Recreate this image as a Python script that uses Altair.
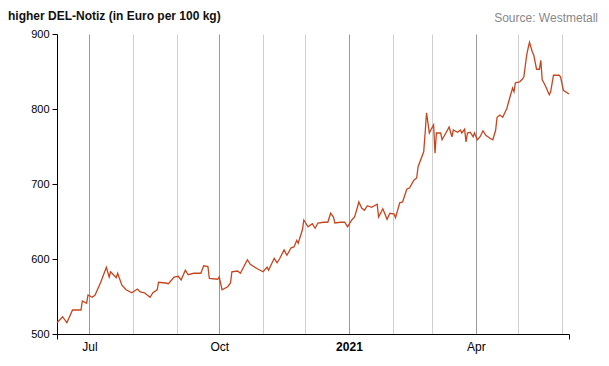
import altair as alt
import pandas as pd

TITLE = "higher DEL-Notiz (in Euro per 100 kg)"
SOURCE = "Source: Westmetall"

dates = [
    "2020-06-08", "2020-06-12", "2020-06-15", "2020-06-19", "2020-06-25", "2020-06-26",
    "2020-06-29", "2020-06-30", "2020-07-03", "2020-07-05", "2020-07-09", "2020-07-13",
    "2020-07-15", "2020-07-16", "2020-07-20", "2020-07-21", "2020-07-24", "2020-07-27",
    "2020-07-31", "2020-08-04", "2020-08-06", "2020-08-09", "2020-08-13", "2020-08-15",
    "2020-08-18", "2020-08-19", "2020-08-24", "2020-08-26", "2020-08-30", "2020-09-02",
    "2020-09-04", "2020-09-07", "2020-09-09", "2020-09-13", "2020-09-18", "2020-09-20",
    "2020-09-23", "2020-09-24", "2020-09-30", "2020-10-01", "2020-10-03", "2020-10-07",
    "2020-10-09", "2020-10-10", "2020-10-14", "2020-10-16", "2020-10-21", "2020-10-23",
    "2020-10-28", "2020-11-01", "2020-11-04", "2020-11-05", "2020-11-09", "2020-11-11",
    "2020-11-13", "2020-11-16", "2020-11-18", "2020-11-21", "2020-11-23", "2020-11-25",
    "2020-11-26", "2020-11-29", "2020-11-30", "2020-12-03", "2020-12-06", "2020-12-08",
    "2020-12-10", "2020-12-14", "2020-12-17", "2020-12-19", "2020-12-21", "2020-12-22",
    "2020-12-26", "2020-12-29", "2020-12-31", "2021-01-03", "2021-01-05", "2021-01-07",
    "2021-01-08", "2021-01-10", "2021-01-12", "2021-01-14", "2021-01-17", "2021-01-21",
    "2021-01-22", "2021-01-25", "2021-01-28", "2021-01-30", "2021-02-02", "2021-02-03",
    "2021-02-06", "2021-02-08", "2021-02-11", "2021-02-13", "2021-02-16", "2021-02-18",
    "2021-02-19", "2021-02-23", "2021-02-24", "2021-02-25", "2021-02-27", "2021-02-28",
    "2021-03-02", "2021-03-03", "2021-03-04", "2021-03-07", "2021-03-08", "2021-03-11",
    "2021-03-13", "2021-03-15", "2021-03-16", "2021-03-19", "2021-03-21", "2021-03-22",
    "2021-03-24", "2021-03-25", "2021-03-26", "2021-03-28", "2021-03-30", "2021-03-31",
    "2021-04-02", "2021-04-04", "2021-04-06", "2021-04-08", "2021-04-11", "2021-04-13",
    "2021-04-15", "2021-04-16", "2021-04-18", "2021-04-20", "2021-04-23", "2021-04-25",
    "2021-04-27", "2021-04-28", "2021-04-29", "2021-05-02", "2021-05-04", "2021-05-05",
    "2021-05-07", "2021-05-08", "2021-05-09", "2021-05-11", "2021-05-12", "2021-05-14",
    "2021-05-16", "2021-05-17", "2021-05-18", "2021-05-20", "2021-05-23", "2021-05-24",
    "2021-05-26", "2021-05-30", "2021-05-31", "2021-06-02", "2021-06-06",
]

prices = [
    515, 523, 515, 532, 532, 544,
    541, 552, 549, 552, 569, 589,
    576, 583, 575, 581, 565, 559,
    555, 560, 556, 555, 549, 555,
    559, 569, 568, 567, 576, 577,
    572, 585, 579, 581, 581, 591,
    590, 574, 573, 576, 559, 563,
    568, 583, 584, 581, 599, 593,
    587, 583, 589, 585, 601, 595,
    601, 612, 605, 615, 616, 625,
    621, 639, 652, 643, 647, 641,
    648, 649, 649, 661, 656, 648,
    649, 649, 643, 652, 656, 669,
    676, 668, 665, 671, 669, 673,
    656, 667, 653, 661, 660, 655,
    675, 676, 693, 695, 705, 708,
    723, 743, 768, 795, 768, 772,
    779, 741, 768, 768, 759, 769,
    776, 763, 772, 769, 772, 768,
    773, 756, 768, 769, 763, 768,
    759, 763, 771, 765, 761, 759,
    772, 789, 792, 789, 801, 815,
    828, 823, 835, 836, 840, 843,
    872, 881, 889, 876, 872, 853,
    853, 865, 839, 832, 819, 823,
    845, 845, 843, 825, 820,
]

month_starts = [
    "2020-07-01", "2020-08-01", "2020-09-01", "2020-10-01", "2020-11-01", "2020-12-01",
    "2021-01-01", "2021-02-01", "2021-03-01", "2021-04-01", "2021-05-01", "2021-06-01",
]
y_ticks = [500, 600, 700, 800, 900]

df = pd.DataFrame({"date": dates, "price": prices})


def dt(s):
    y, m, d = (int(p) for p in s.split("-"))
    return alt.DateTime(year=y, month=m, date=d, utc=True)


x_domain = [dt("2020-06-08"), dt("2021-06-06")]
x_values = [x_domain[0]] + [dt(s) for s in month_starts] + [x_domain[1]]

is_month = "utcdate(datum.value) == 1"
is_quarter = "utcdate(datum.value) == 1 && utcmonth(datum.value) % 3 == 0"

x_axis = alt.Axis(
    title=None,
    values=x_values,
    grid=True,
    gridColor={"condition": {"test": is_quarter, "value": "#9a9a9a"}, "value": "#cfcfcf"},
    gridOpacity={"condition": {"test": is_month, "value": 1}, "value": 0},
    gridWidth=1,
    ticks=True,
    tickSize=5,
    tickColor="#000000",
    tickOpacity={"condition": {"test": is_month, "value": 0}, "value": 1},
    domainColor="#000000",
    domainWidth=1,
    labelExpr=(
        "(utcdate(datum.value) == 1 && utcmonth(datum.value) % 3 == 0) ? "
        "(utcmonth(datum.value) == 0 ? utcFormat(datum.value, '%Y') : utcFormat(datum.value, '%b')) : ''"
    ),
    labelFontWeight={
        "condition": {"test": "utcmonth(datum.value) == 0 && utcdate(datum.value) == 1", "value": "bold"},
        "value": "normal",
    },
    labelFont="Liberation Sans",
    labelFontSize=12,
    labelColor="#000000",
    labelPadding=2,
    labelOverlap=False,
    labelFlush=False,
)

y_axis = alt.Axis(
    title=None,
    values=y_ticks,
    grid=False,
    tickSize=5,
    tickColor="#000000",
    domainColor="#000000",
    domainWidth=1,
    labelFont="Liberation Sans",
    labelFontSize=11,
    labelColor="#000000",
    labelPadding=3,
)

line = alt.Chart(df).mark_line(color="#c8441c", strokeWidth=1.3).encode(
    x=alt.X("date:T", scale=alt.Scale(type="utc", domain=x_domain, nice=False), axis=x_axis),
    y=alt.Y("price:Q", scale=alt.Scale(domain=[500, 900], nice=False, zero=False), axis=y_axis),
)

title_text = alt.Chart(pd.DataFrame({"t": [TITLE]})).mark_text(
    align="left", baseline="alphabetic", font="Liberation Sans", fontSize=12,
    fontWeight="bold", color="#111111",
).encode(text="t:N", x=alt.value(-49), y=alt.value(-14))

source_text = alt.Chart(pd.DataFrame({"t": [SOURCE]})).mark_text(
    align="right", baseline="alphabetic", font="Liberation Sans", fontSize=12,
    color="#888888",
).encode(text="t:N", x=alt.value(541), y=alt.value(-12.5))

chart = alt.layer(line, title_text, source_text).properties(
    width=512,
    height=300,
    autosize=alt.AutoSizeParams(type="none"),
    padding={"left": 49, "top": 26, "right": 32, "bottom": 22},
).configure_view(strokeWidth=0)

chart.save("out.html", embed_options={"renderer": "svg", "actions": False})
